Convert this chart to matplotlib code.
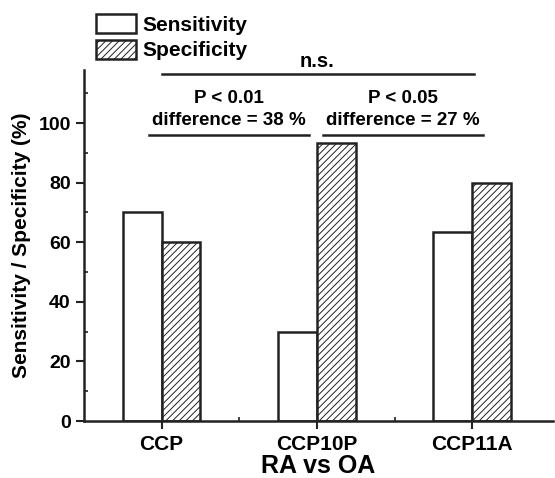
import matplotlib
matplotlib.use('Agg')
import matplotlib.pyplot as plt
import numpy as np
from matplotlib.patches import Patch

plt.rcParams['font.family'] = ['Liberation Sans', 'DejaVu Sans']
plt.rcParams['font.weight'] = 'bold'
plt.rcParams['hatch.linewidth'] = 0.7

# data
markers = ['CCP', 'CCP10P', 'CCP11A']
sensitivity = [70, 30, 63.3]
specificity = [60, 93.3, 80]
series = ['Sensitivity', 'Specificity']

fig = plt.figure(figsize=(5.55, 4.78), dpi=100)
ax = fig.add_axes([84/555, 1-421/478, 469/555, 351/478])

x = np.arange(1, len(markers)+1)
w = 0.25
ax.bar(x - w/2, sensitivity, w, color='white', edgecolor='#222222', linewidth=1.8)
ax.bar(x + w/2, specificity, w, color='white', edgecolor='#222222', linewidth=1.8, hatch='/////')

ax.set_xlim(0.5, 3.52)
ax.set_ylim(0, 117.8)
ax.set_xticks(x)
ax.set_xticklabels(markers, fontsize=15, fontweight='bold')
ax.set_xticks([1.5, 2.5], minor=True)
ax.set_yticks([0, 20, 40, 60, 80, 100])
ax.set_yticks([10, 30, 50, 70, 90, 110], minor=True)
ax.tick_params(axis='both', which='major', direction='out', length=6, width=1.5, labelsize=14, color='#222222')
ax.tick_params(axis='x', which='major', labelsize=15, pad=4)
ax.tick_params(axis='both', which='minor', direction='in', length=3, width=1.2, color='#222222')
for lab in ax.get_yticklabels():
    lab.set_fontweight('bold')
for s in ['top', 'right']:
    ax.spines[s].set_visible(False)
for s in ['left', 'bottom']:
    ax.spines[s].set_linewidth(1.8)
    ax.spines[s].set_color('#222222')

ax.set_xlabel('RA vs OA', fontsize=18, fontweight='bold', labelpad=0)
ax.set_ylabel('Sensitivity / Specificity (%)', fontsize=15, fontweight='bold', labelpad=5)

# significance brackets
ax.plot([1, 3.01], [116.6, 116.6], color='#222222', lw=1.8, clip_on=False)
ax.text(2, 117.4, 'n.s.', ha='center', va='bottom', fontsize=14.5, fontweight='bold')
ax.plot([0.92, 1.95], [96.0, 96.0], color='#222222', lw=1.8)
ax.text(1.435, 98.0, 'P < 0.01\ndifference = 38 %', ha='center', va='bottom',
        fontsize=13.5, fontweight='bold', linespacing=1.4)
ax.plot([2.04, 3.07], [96.0, 96.0], color='#222222', lw=1.8)
ax.text(2.555, 98.0, 'P < 0.05\ndifference = 27 %', ha='center', va='bottom',
        fontsize=13.5, fontweight='bold', linespacing=1.4)

handles = [Patch(facecolor='white', edgecolor='#222222', linewidth=1.8),
           Patch(facecolor='white', edgecolor='#222222', linewidth=1.8, hatch='/////')]
fig.legend(handles, series, loc='upper left', bbox_to_anchor=(88/555, 1-6/478),
           frameon=False, handlelength=1.9, handleheight=1.0,
           handletextpad=0.3, labelspacing=0.25, borderaxespad=0, prop={'weight': 'bold', 'size': 15})

fig.savefig('out.png', dpi=100)
